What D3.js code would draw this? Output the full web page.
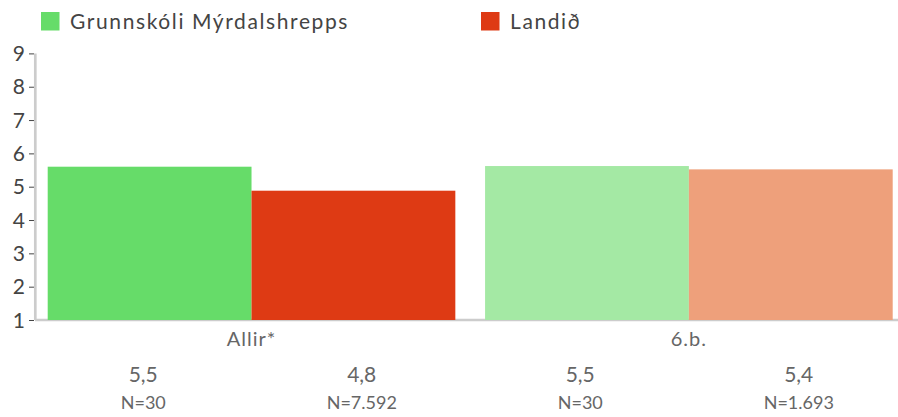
<!DOCTYPE html>
<html>
<head>
<meta charset="utf-8">
<script src="https://cdn.jsdelivr.net/npm/d3@7"></script>
<style>
  body { margin: 0; background: #fff; }
  svg text { font-family: Lato, "Open Sans", sans-serif; }
</style>
</head>
<body>
<div class="visHolder"></div>
<script>
const w = 898;
const h = 417;

// data
const categories = ['Allir*', '6.b.'];
const seriesNames = ['Grunnskóli Mýrdalshrepps', 'Landið'];
const schoolValues = [5.6, 5.62];
const landValues = [4.88, 5.52];
const valueLabels = ['5,5', '4,8', '5,5', '5,4'];
const nLabels = ['N=30', 'N=7.592', 'N=30', 'N=1.693'];
const yTicks = [1, 2, 3, 4, 5, 6, 7, 8, 9];

const colors = [['#66dc69', '#de3a14'], ['#a4e9a4', '#eea07b']];
const legendColors = ['#66dc69', '#de3a14'];

const svg = d3.select('.visHolder').append('svg').attr('width', w).attr('height', h);

const yScale = d3.scaleLinear().domain([1, 9]).range([320, 53.4]);
const xScale = d3.scaleBand().domain(categories).range([47.7, 892.7]).paddingInner(0.068).paddingOuter(0);
const xSub = d3.scaleBand().domain([0, 1]).range([0, xScale.bandwidth()]);

// baseline
svg.append('line')
  .attr('x1', 35).attr('x2', w)
  .attr('y1', 320).attr('y2', 320)
  .attr('stroke', '#cccccc').attr('stroke-width', 2.5);

// bars
const rows = [];
categories.forEach((c, i) => {
  rows.push({ cat: c, s: 0, v: schoolValues[i], color: colors[i][0] });
  rows.push({ cat: c, s: 1, v: landValues[i], color: colors[i][1] });
});

svg.selectAll('rect.bar').data(rows).enter().append('rect')
  .attr('class', 'bar')
  .attr('x', d => xScale(d.cat) + xSub(d.s))
  .attr('y', d => yScale(d.v))
  .attr('width', xSub.bandwidth())
  .attr('height', d => yScale(1) - yScale(d.v))
  .attr('fill', d => d.color);

// y axis
const yAxis = d3.axisLeft(yScale).tickValues(yTicks).tickSize(5).tickPadding(4).tickFormat(d3.format('d'));
const gy = svg.append('g').attr('transform', 'translate(34,0)').call(yAxis);
gy.select('.domain').remove();
gy.selectAll('.tick line').attr('stroke', '#444');
gy.selectAll('.tick text').attr('fill', '#444').style('font-size', '21px').attr('dy', '0.34em');
svg.append('line')
  .attr('x1', 35.3).attr('x2', 35.3)
  .attr('y1', yScale(9)).attr('y2', 320)
  .attr('stroke', '#cccccc').attr('stroke-width', 2.7);

// category labels
svg.selectAll('text.cat').data(categories).enter().append('text')
  .attr('class', 'cat')
  .attr('x', d => xScale(d) + xScale.bandwidth() / 2)
  .attr('y', 346)
  .attr('text-anchor', 'middle')
  .attr('fill', '#666')
  .style('font-size', '20px')
  .style('letter-spacing', '1px')
  .text(d => d);

// value table under chart
const tScale = d3.scaleBand().domain(d3.range(valueLabels.length)).range([34, 908]);
svg.selectAll('text.val').data(valueLabels).enter().append('text')
  .attr('class', 'val')
  .attr('x', (d, i) => tScale(i) + tScale.bandwidth() / 2)
  .attr('y', 382)
  .attr('text-anchor', 'middle')
  .attr('fill', '#666')
  .style('font-size', '21px')
  .text(d => d);
svg.selectAll('text.n').data(nLabels).enter().append('text')
  .attr('class', 'n')
  .attr('x', (d, i) => tScale(i) + tScale.bandwidth() / 2)
  .attr('y', 409)
  .attr('text-anchor', 'middle')
  .attr('fill', '#666')
  .style('font-size', '18px')
  .text(d => d);

// legend
const legendX = [41, 481];
const lg = svg.selectAll('g.legend').data(seriesNames).enter().append('g')
  .attr('class', 'legend')
  .attr('transform', (d, i) => 'translate(' + legendX[i] + ',12)');
lg.append('rect').attr('width', 18.5).attr('height', 18.5).attr('fill', (d, i) => legendColors[i]);
lg.append('text')
  .attr('x', 29).attr('y', 16.5)
  .attr('fill', '#444')
  .style('font-size', '21px')
  .style('letter-spacing', '1.6px')
  .text(d => d);
</script>
</body>
</html>
